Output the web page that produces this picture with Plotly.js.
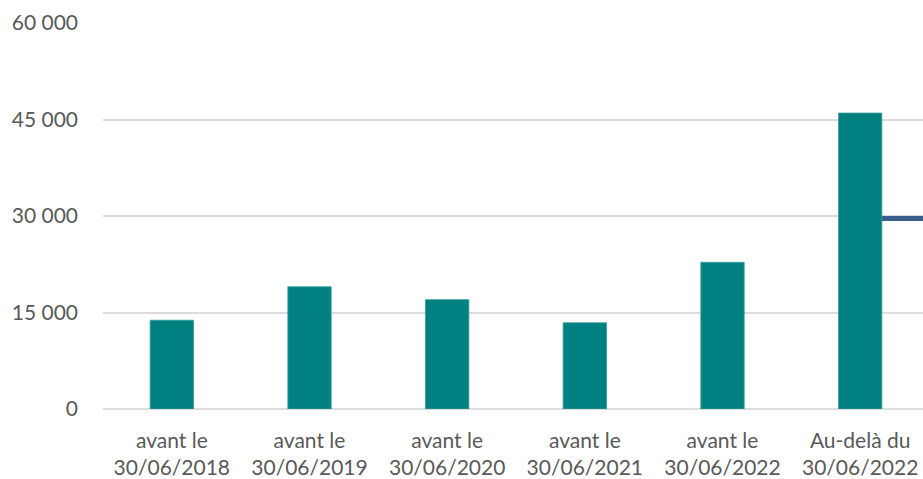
<!DOCTYPE html>
<html>
<head>
<meta charset="utf-8">
<script src="https://cdn.plot.ly/plotly-3.0.1.min.js"></script>
<style>
html,body{margin:0;padding:0;overflow:hidden;background:#fff;}
#chart{width:929px;height:479px;}
</style>
</head>
<body>
<div id="chart"></div>
<script>
const categories = ["avant le<br>30/06/2018","avant le<br>30/06/2019","avant le<br>30/06/2020","avant le<br>30/06/2021","avant le<br>30/06/2022","Au-delà du<br>30/06/2022"];
const values = [13800, 19000, 17000, 13400, 22800, 46000];
const lineX = [5, 5.6];
const lineY = [29600, 29600];
const yTicks = [0, 15000, 30000, 45000, 60000];
const yTickText = ["0", "15 000", "30 000", "45 000", "60 000"];

const idx = categories.map((c, i) => i);

const data = [
  {
    type: 'scatter', mode: 'lines', x: lineX, y: lineY,
    line: {color: '#3A5E8E', width: 5}, zorder: 0, hoverinfo: 'skip', showlegend: false
  },
  {
    type: 'bar', x: idx, y: values, width: 0.315,
    marker: {color: '#008080', line: {color: '#3a9c9c', width: 0.8}},
    zorder: 1, showlegend: false
  }
];

const layout = {
  width: 929, height: 479,
  margin: {l: 102.5, r: 0, t: 22.7, b: 70},
  paper_bgcolor: '#fff', plot_bgcolor: '#fff',
  font: {family: 'Lato, "Open Sans", sans-serif', size: 21, color: '#595959'},
  showlegend: false,
  xaxis: {
    type: 'linear', range: [-0.5, 5.5], tickvals: idx, ticktext: categories,
    showgrid: false, zeroline: false, showline: false, ticks: '', fixedrange: true,
    ticklabelstandoff: 17,
    tickfont: {size: 21, color: '#595959'}
  },
  yaxis: {
    range: [0, 60000], tickvals: yTicks, ticktext: yTickText,
    showgrid: true, gridcolor: '#dcdcdc', gridwidth: 2,
    zeroline: true, zerolinecolor: '#dcdcdc', zerolinewidth: 2,
    showline: false, ticks: '', ticklabelstandoff: 24, fixedrange: true,
    tickfont: {size: 21, color: '#595959'}
  }
};

Plotly.newPlot('chart', data, layout, {displayModeBar: false, staticPlot: true});
</script>
</body>
</html>
